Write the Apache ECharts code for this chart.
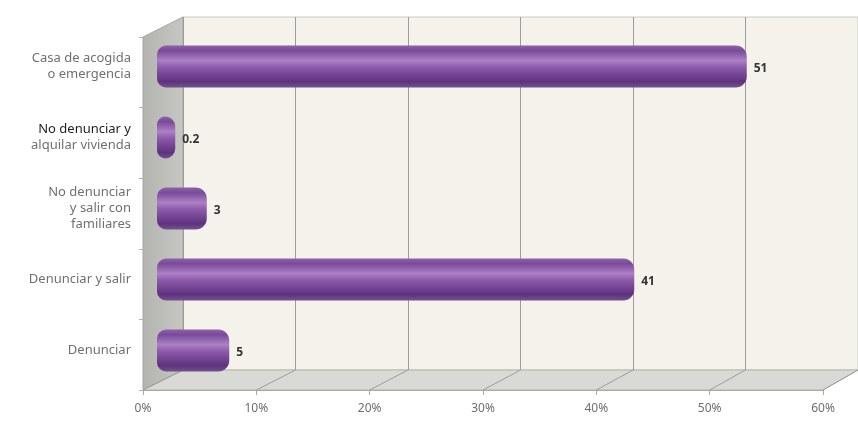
<!DOCTYPE html>
<html>
<head>
<meta charset="utf-8">
<script src="https://cdn.jsdelivr.net/npm/echarts@6/dist/echarts.min.js"></script>
<style>
  html, body { margin: 0; padding: 0; background: #ffffff; }
  #chart { width: 858px; height: 425px; }
</style>
</head>
<body>
<div id="chart"></div>
<script>
// Categories listed bottom to top (category axis starts at the bottom)
const categories = [
  'Denunciar',
  'Denunciar y salir',
  'No denunciar\ny salir con\nfamiliares',
  '{dark|No denunciar y}\nalquilar vivienda',
  'Casa de acogida\no emergencia'
];
const values = [5, 41, 3, 0.2, 51];
const axisMax = 60;
const axisStep = 10;

const FONT = '"Noto Sans", "DejaVu Sans", sans-serif';
const chart = echarts.init(document.getElementById('chart'), null, { renderer: 'canvas' });

// cylinder shading across the bar thickness
const barFill = new echarts.graphic.LinearGradient(0, 0, 0, 1, [
  { offset: 0.00, color: '#8e62a8' },
  { offset: 0.12, color: '#7a4a9a' },
  { offset: 0.36, color: '#ab80c4' },
  { offset: 0.52, color: '#8c5aaa' },
  { offset: 0.86, color: '#5f327f' },
  { offset: 1.00, color: '#72528c' }
]);
const CAP = 8;

function renderCylinder(params, api) {
  const v = api.value(0);
  const c = api.value(1);
  const p0 = api.coord([0, c]);
  const p1 = api.coord([v, c]);
  const h = api.size([0, 1])[1] * 0.59;
  return {
    type: 'group',
    children: [
      {
        type: 'rect',
        shape: { x: p0[0] - CAP, y: p0[1] - h / 2, width: p1[0] - p0[0] + 2 * CAP, height: h, r: [9, 11, 11, 9] },
        style: { fill: barFill }
      },
      {
        type: 'text',
        style: {
          text: String(v),
          x: p1[0] + CAP + 7,
          y: p1[1] + 2,
          verticalAlign: 'middle',
          align: 'left',
          font: 'bold 12px ' + FONT,
          fill: '#333333'
        }
      }
    ]
  };
}

const option = {
  animation: false,
  backgroundColor: '#ffffff',
  grid: [
    // bars (mid depth)
    { left: 165, top: 31, width: 675, height: 355 },
    // back wall
    { left: 183, top: 17, width: 678, height: 353 },
    // front edge of floor and side wall
    { left: 143, top: 37, width: 680, height: 353 }
  ],
  xAxis: [
    { gridIndex: 0, type: 'value', min: 0, max: axisMax, interval: axisStep, show: false },
    {
      gridIndex: 1, type: 'value', min: 0, max: axisMax, interval: axisStep,
      axisLine: { show: false }, axisTick: { show: false }, axisLabel: { show: false },
      splitLine: { show: true, lineStyle: { color: '#9c9c9a', width: 1 } }
    },
    {
      gridIndex: 2, type: 'value', min: 0, max: axisMax, interval: axisStep,
      axisLine: { show: true, lineStyle: { color: '#a9a9a6', width: 1 } },
      axisTick: { show: true, length: 5, lineStyle: { color: '#a9a9a6' } },
      splitLine: { show: false },
      axisLabel: {
        formatter: '{value}%', margin: 13,
        color: '#6e6e6e', fontSize: 12, fontFamily: FONT
      }
    }
  ],
  yAxis: [
    {
      gridIndex: 0, type: 'category', data: categories,
      axisLine: { show: false }, axisTick: { show: false },
      axisLabel: {
        margin: 34, align: 'right', color: '#707070', fontSize: 13, lineHeight: 16,
        fontFamily: FONT,
        rich: { dark: { color: '#1e1e1e', fontSize: 13, fontFamily: FONT, lineHeight: 16 } }
      }
    },
    {
      gridIndex: 1, type: 'category', data: categories, show: false
    },
    {
      gridIndex: 2, type: 'category', data: categories,
      axisLine: { show: false },
      axisTick: { show: true, length: 4, lineStyle: { color: '#b0b0ae' } },
      axisLabel: { show: false }
    }
  ],
  series: [
    {
      type: 'custom',
      xAxisIndex: 0, yAxisIndex: 0,
      renderItem: renderCylinder,
      encode: { x: 0, y: 1 },
      data: values.map((v, i) => [v, i]),
      z: 5
    }
  ]
};

chart.setOption(option);

// Walls and floor drawn from the axis positions
const x0Front = chart.convertToPixel({ xAxisIndex: 2 }, 0);
const xEndFront = chart.convertToPixel({ xAxisIndex: 2 }, axisMax);
const x0Back = chart.convertToPixel({ xAxisIndex: 1 }, 0);
const xEndBack = chart.convertToPixel({ xAxisIndex: 1 }, axisMax);
const yFront = 390, yBack = 370, yTopFront = 37, yTopBack = 17;

const deco = [
  {
    type: 'rect', z: -20,
    shape: { x: x0Back, y: yTopBack, width: xEndBack - x0Back, height: yBack - yTopBack },
    style: { fill: '#f4f2ea', stroke: '#c9c9c5', lineWidth: 1 }
  },
  {
    type: 'polygon', z: -19,
    shape: { points: [[x0Front, yTopFront], [x0Back, yTopBack], [x0Back, yBack], [x0Front, yFront]] },
    style: {
      fill: new echarts.graphic.LinearGradient(0, 0, 1, 0, [
        { offset: 0, color: '#b3b3b0' },
        { offset: 1, color: '#c6c6c2' }
      ]),
      stroke: '#a5a5a2', lineWidth: 1
    }
  },
  {
    type: 'polygon', z: -19,
    shape: { points: [[x0Front, yFront], [xEndFront, yFront], [xEndBack, yBack], [x0Back, yBack]] },
    style: { fill: '#d9d9d5', stroke: '#b5b5b1', lineWidth: 1 }
  }
];
for (let v = 0; v <= axisMax; v += axisStep) {
  const xf = chart.convertToPixel({ xAxisIndex: 2 }, v);
  const xb = chart.convertToPixel({ xAxisIndex: 1 }, v);
  deco.push({
    type: 'line', z: -18,
    shape: { x1: xf, y1: yFront, x2: xb, y2: yBack },
    style: { stroke: '#9c9c9a', lineWidth: 1 }
  });
}
chart.setOption({ graphic: deco });
</script>
</body>
</html>
